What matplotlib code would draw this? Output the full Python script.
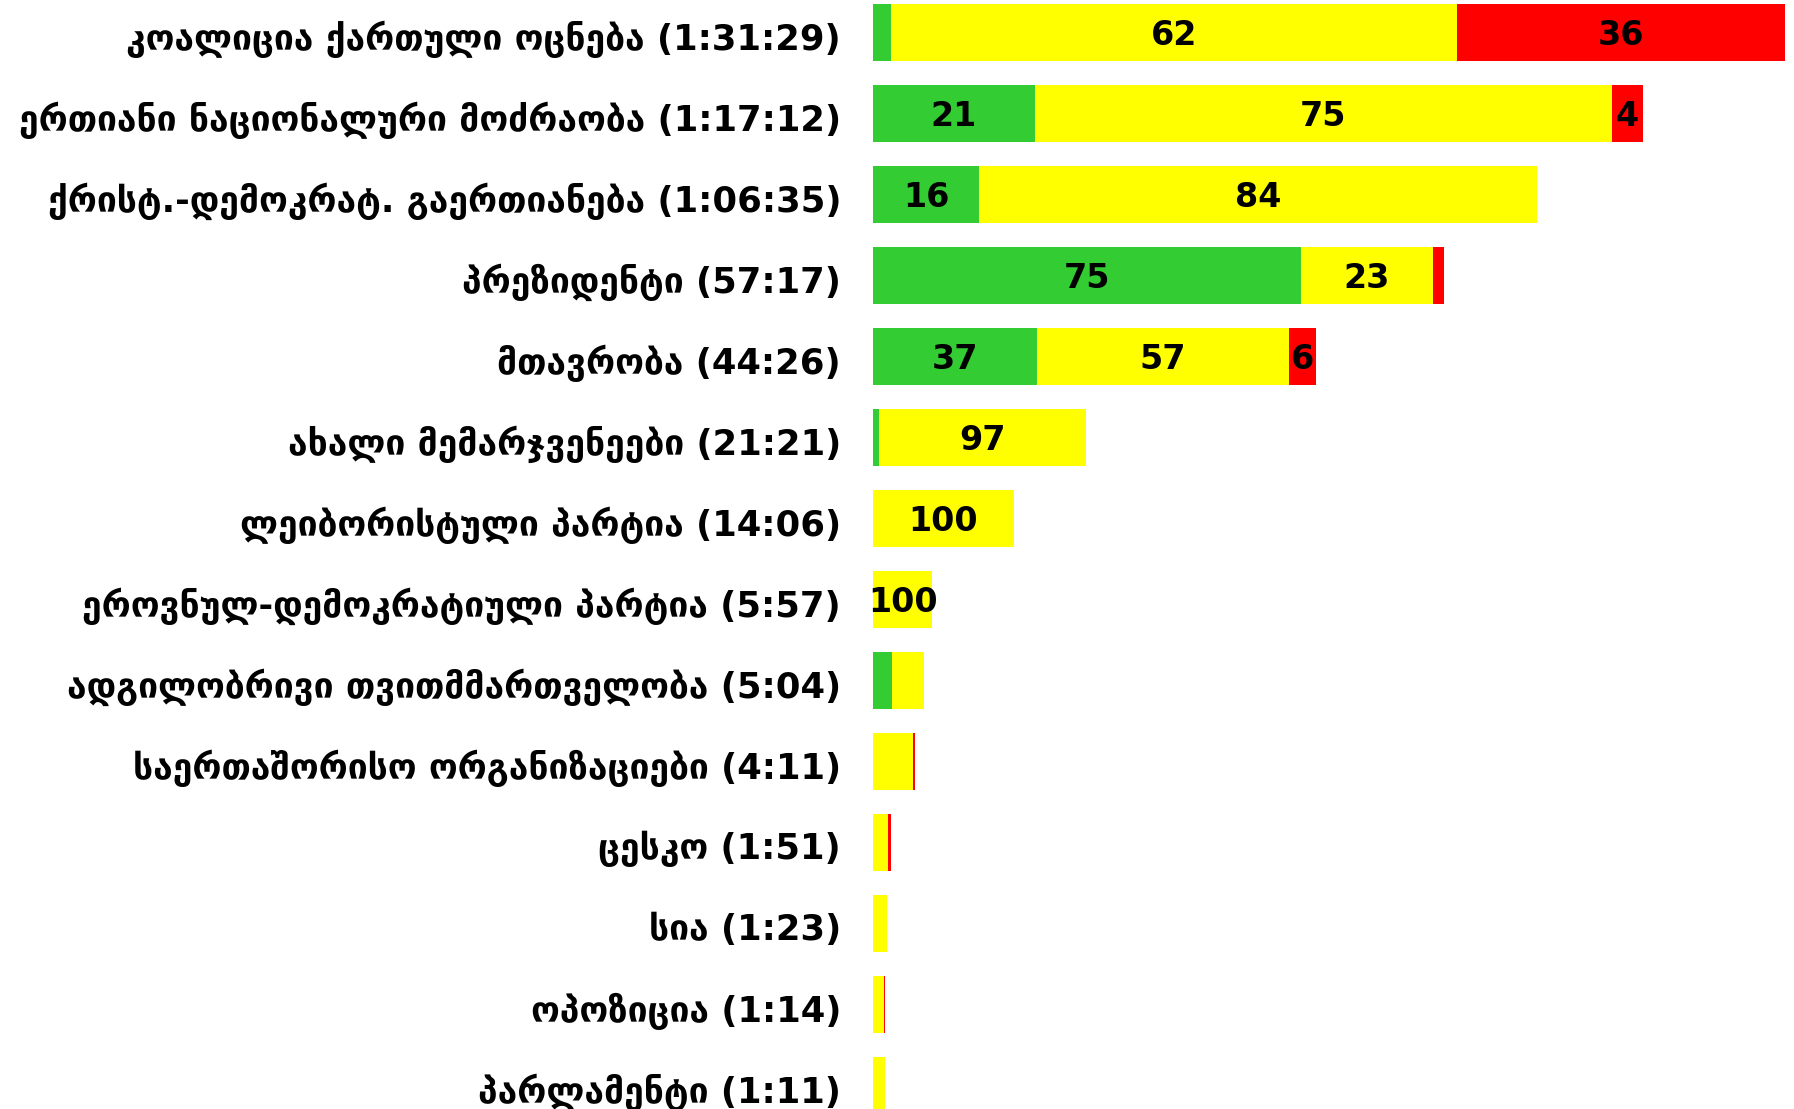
import numpy as np
import matplotlib
matplotlib.use('Agg')
import matplotlib.pyplot as plt

# სახელები და ეთერის დრო
names = ['კოალიცია ქართული ოცნება', 'ერთიანი ნაციონალური მოძრაობა',
         'ქრისტ.-დემოკრატ. გაერთიანება', 'პრეზიდენტი', 'მთავრობა',
         'ახალი მემარჯვენეები', 'ლეიბორისტული პარტია',
         'ეროვნულ-დემოკრატიული პარტია', 'ადგილობრივი თვითმმართველობა',
         'საერთაშორისო ორგანიზაციები', 'ცესკო', 'სია', 'ოპოზიცია', 'პარლამენტი']
times = ['1:31:29', '1:17:12', '1:06:35', '57:17', '44:26', '21:21', '14:06',
         '5:57', '5:04', '4:11', '1:51', '1:23', '1:14', '1:11']

# პროცენტები: დადებითი / ნეიტრალური / უარყოფითი
green = [2, 21, 16, 75, 37, 3, 0, 0, 37, 0, 0, 0, 0, 0]
yellow = [62, 75, 84, 23, 57, 97, 100, 100, 63, 97, 82, 100, 90, 100]
red = [36, 4, 0, 2, 6, 0, 0, 0, 0, 3, 18, 0, 10, 0]

colors = ['#33CC33', '#FFFF00', '#FF0000']


def to_sec(t):
    p = [int(v) for v in t.split(':')]
    s = 0
    for v in p:
        s = s * 60 + v
    return s


secs = np.array([to_sec(t) for t in times], dtype=float)
W, H = 1794, 1109
fig = plt.figure(figsize=(W / 100, H / 100), dpi=100)
ax = fig.add_axes([873 / W, 0, (1785 - 873) / W, 1])

rows = np.arange(len(names))
left = np.zeros(len(names))
for pct, c in zip([green, yellow, red], colors):
    pct = np.array(pct, dtype=float)
    w = secs * pct / 100.0
    ax.barh(rows, w, left=left, height=0.7, color=c, edgecolor='none')
    for i in rows:
        if pct[i] >= 4 and secs[i] >= 350:
            ax.text(left[i] + w[i] / 2, i + 0.04, '%d' % pct[i], ha='center', va='center',
                    fontsize=24, fontweight='bold', color='black')
    left += w

for i in rows:
    ax.text(-0.035 * secs.max(), i + 0.08, '%s (%s)' % (names[i], times[i]), ha='right', va='center',
            fontsize=25.5, fontweight='bold', color='black')

ax.set_xlim(0, secs.max())
ax.set_ylim((H - 32.6) / 81, -32.6 / 81)
ax.axis('off')
fig.savefig('out.png', dpi=100)
